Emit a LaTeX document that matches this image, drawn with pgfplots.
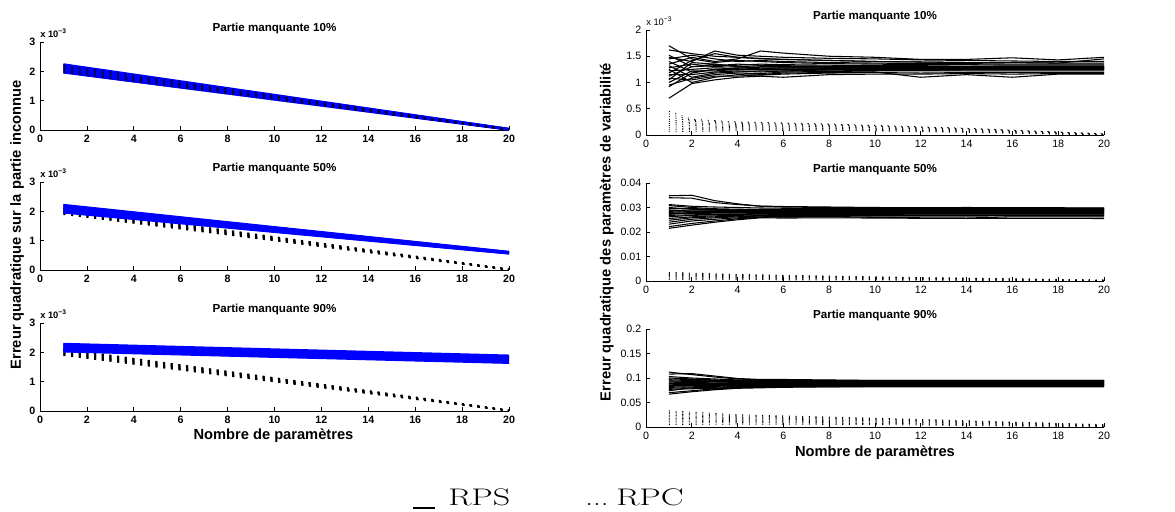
\documentclass[border=0pt]{standalone}
\usepackage{fontspec}
\usepackage{graphicx}
\usepackage{pgfplots}
\usepackage{pgfplotstable}
\pgfplotsset{compat=1.18}
\newfontfamily\arial{Liberation Sans}

% ---------- left column (values in units of 1e-3) ----------
\pgfplotstableread{
x b1 b2 b3 b4 b5 b6 b7 b8 b9 b10 b11 b12 b13
1 1.95 1.97 2.00 2.02 2.05 2.07 2.10 2.12 2.15 2.17 2.20 2.22 2.25
20 0.00 0.005 0.01 0.013 0.017 0.02 0.025 0.028 0.032 0.036 0.04 0.045 0.05
}\LBone
\pgfplotstableread{
x k1 k2 k3 k4 k5 k6 k7 k8 k9 k10
1 1.95 1.98 2.01 2.04 2.07 2.10 2.13 2.16 2.19 2.22
20 0.00 0.003 0.006 0.01 0.013 0.016 0.02 0.023 0.026 0.03
}\LKone
\pgfplotstableread{
x b1 b2 b3 b4 b5 b6 b7 b8 b9 b10 b11 b12 b13
1 1.95 1.97 2.00 2.02 2.05 2.07 2.10 2.12 2.15 2.17 2.19 2.21 2.23
20 0.55 0.56 0.565 0.57 0.575 0.58 0.585 0.59 0.60 0.605 0.61 0.62 0.63
}\LBtwo
\pgfplotstableread{
x k1 k2 k3 k4 k5 k6 k7 k8 k9 k10
1 1.90 1.92 1.95 1.97 2.00 2.02 2.05 2.07 2.10 2.12
20 0.00 0.003 0.006 0.01 0.013 0.016 0.02 0.023 0.026 0.03
}\LKtwo
\pgfplotstableread{
x b1 b2 b3 b4 b5 b6 b7 b8 b9 b10 b11 b12 b13
1 2.02 2.04 2.07 2.09 2.12 2.14 2.17 2.19 2.22 2.24 2.26 2.28 2.30
20 1.63 1.65 1.67 1.70 1.72 1.74 1.77 1.79 1.81 1.83 1.85 1.87 1.90
}\LBthree

% ---------- right column ----------
% top panel, units of 1e-3
\pgfplotstableread{
x a1 a2 a3 a4 a5 a6 a7 a8 a9 a10 a11 a12 a13 a14 a15 a16 a17 a18 a19 a20
1 1.70 1.62 1.52 1.48 1.45 1.40 1.35 1.32 1.28 1.25 1.22 1.18 1.15 1.12 1.08 1.05 1.00 0.95 0.92 0.70
2 1.45 1.55 1.30 1.40 1.52 1.20 1.48 1.10 1.35 1.00 1.25 1.42 1.15 1.30 1.05 1.38 1.22 1.08 1.18 0.98
3 1.38 1.50 1.35 1.60 1.45 1.25 1.40 1.18 1.30 1.10 1.28 1.55 1.20 1.32 1.12 1.35 1.22 1.15 1.25 1.05
4 1.42 1.48 1.30 1.52 1.40 1.28 1.45 1.20 1.33 1.15 1.27 1.48 1.22 1.35 1.12 1.30 1.25 1.18 1.24 1.10
5 1.40 1.45 1.32 1.50 1.42 1.26 1.60 1.22 1.35 1.14 1.30 1.46 1.20 1.33 1.15 1.28 1.25 1.17 1.24 1.12
6 1.38 1.44 1.30 1.48 1.40 1.28 1.56 1.22 1.34 1.16 1.30 1.44 1.22 1.32 1.18 1.28 1.26 1.20 1.25 1.10
8 1.36 1.42 1.30 1.46 1.38 1.27 1.50 1.22 1.33 1.18 1.29 1.42 1.24 1.31 1.19 1.28 1.26 1.21 1.25 1.15
10 1.35 1.40 1.30 1.45 1.37 1.27 1.48 1.23 1.32 1.19 1.29 1.40 1.24 1.30 1.20 1.27 1.26 1.22 1.25 1.16
12 1.34 1.39 1.30 1.43 1.36 1.27 1.44 1.23 1.32 1.18 1.29 1.39 1.24 1.30 1.10 1.27 1.26 1.22 1.25 1.16
14 1.34 1.38 1.30 1.42 1.36 1.27 1.44 1.24 1.31 1.19 1.29 1.38 1.25 1.30 1.15 1.27 1.26 1.22 1.25 1.17
16 1.33 1.38 1.30 1.41 1.35 1.27 1.47 1.24 1.31 1.19 1.29 1.38 1.25 1.30 1.10 1.27 1.26 1.22 1.25 1.16
18 1.33 1.37 1.30 1.40 1.35 1.27 1.43 1.24 1.31 1.19 1.29 1.37 1.25 1.30 1.16 1.27 1.26 1.22 1.25 1.17
20 1.33 1.37 1.30 1.40 1.35 1.27 1.48 1.24 1.31 1.19 1.29 1.45 1.25 1.30 1.16 1.27 1.26 1.22 1.25 1.17
}\ROne
\pgfplotstableread{
x d1 d2 d3 d4 d5 d6 d7 d8 d9 d10
1 .45 .40 .35 .30 .26 .22 .18 .14 .10 .06
2 .30 .28 .26 .23 .21 .18 .15 .12 .10 .07
4 .25 .24 .22 .20 .18 .16 .14 .12 .10 .08
8 .21 .20 .19 .18 .16 .15 .13 .12 .10 .09
14 .13 .12 .12 .11 .10 .09 .08 .07 .06 .05
20 .02 .02 .02 .01 .01 .01 .01 .00 .00 .00
}\ROneD
% middle panel
\pgfplotstableread{
x a1 a2 a3 a4 a5 a6 a7 a8 a9 a10 a11 a12 a13 a14 a15 a16 a17 a18 a19 a20
1 .0348 .0340 .0312 .0308 .0300 .0295 .0290 .0287 .0283 .0280 .0276 .0272 .0268 .0262 .0255 .0248 .0240 .0232 .0222 .0215
2 .0350 .0338 .0305 .0300 .0293 .0296 .0285 .0290 .0280 .0284 .0275 .0278 .0270 .0268 .0262 .0258 .0252 .0245 .0235 .0228
3 .0328 .0320 .0302 .0295 .0290 .0292 .0286 .0289 .0281 .0284 .0277 .0279 .0272 .0270 .0266 .0262 .0258 .0252 .0245 .0240
4 .0315 .0312 .0300 .0293 .0289 .0290 .0286 .0288 .0281 .0284 .0278 .0280 .0274 .0272 .0268 .0265 .0262 .0258 .0254 .0250
5 .0305 .0306 .0298 .0292 .0288 .0290 .0286 .0288 .0282 .0284 .0279 .0281 .0275 .0273 .0270 .0267 .0265 .0262 .0260 .0258
6 .0302 .0304 .0297 .0292 .0288 .0290 .0286 .0288 .0282 .0284 .0279 .0281 .0276 .0274 .0271 .0268 .0266 .0263 .0261 .0257
8 .0300 .0302 .0296 .0292 .0288 .0290 .0286 .0288 .0282 .0284 .0280 .0281 .0276 .0274 .0272 .0269 .0267 .0264 .0262 .0258
10 .0298 .0300 .0296 .0292 .0288 .0290 .0286 .0288 .0283 .0284 .0280 .0281 .0276 .0275 .0272 .0270 .0268 .0265 .0260 .0257
12 .0298 .0299 .0296 .0292 .0288 .0290 .0286 .0288 .0283 .0284 .0280 .0281 .0277 .0275 .0273 .0270 .0268 .0265 .0258 .0256
14 .0299 .0300 .0296 .0292 .0288 .0290 .0286 .0288 .0283 .0284 .0280 .0281 .0277 .0275 .0273 .0270 .0268 .0265 .0257 .0256
16 .0298 .0299 .0296 .0292 .0288 .0290 .0286 .0288 .0283 .0284 .0280 .0281 .0277 .0275 .0273 .0270 .0268 .0266 .0262 .0256
18 .0298 .0299 .0296 .0292 .0288 .0290 .0286 .0288 .0283 .0284 .0280 .0281 .0277 .0275 .0273 .0270 .0268 .0266 .0262 .0256
20 .0297 .0298 .0295 .0292 .0288 .0290 .0286 .0288 .0283 .0284 .0280 .0281 .0277 .0275 .0273 .0270 .0268 .0266 .0262 .0255
}\RTwo
\pgfplotstableread{
x d1 d2 d3 d4 d5 d6 d7 d8 d9 d10
1 .0035 .0032 .0029 .0026 .0023 .0020 .0016 .0012 .0008 .0005
4 .0027 .0025 .0023 .0021 .0019 .0017 .0014 .0011 .0008 .0005
10 .0017 .0016 .0015 .0014 .0013 .0012 .0010 .0008 .0006 .0004
20 .0004 .0004 .0003 .0003 .0002 .0002 .0001 .0001 .0000 .0000
}\RTwoD
% bottom panel
\pgfplotstableread{
x a1 a2 a3 a4 a5 a6 a7 a8 a9 a10 a11 a12 a13 a14 a15 a16 a17 a18 a19 a20
1 .112 .108 .103 .100 .098 .096 .094 .092 .090 .089 .088 .086 .085 .083 .081 .079 .077 .074 .070 .067
2 .107 .109 .100 .098 .097 .095 .093 .092 .091 .089 .088 .087 .085 .084 .082 .080 .078 .080 .074 .072
3 .102 .104 .098 .096 .095 .094 .093 .092 .090 .089 .088 .087 .086 .085 .083 .081 .079 .077 .078 .076
4 .098 .099 .096 .095 .094 .093 .092 .091 .090 .089 .088 .087 .086 .085 .084 .083 .082 .081 .080 .079
5 .096 .097 .095 .094 .093 .092 .092 .091 .090 .089 .088 .087 .086 .086 .085 .084 .083 .082 .081 .080
6 .095 .097 .095 .094 .093 .092 .092 .091 .090 .089 .088 .088 .087 .086 .085 .084 .084 .083 .082 .081
8 .095 .096 .095 .094 .093 .092 .091 .091 .090 .089 .089 .088 .087 .086 .086 .085 .084 .083 .082 .082
10 .095 .095 .094 .094 .093 .092 .091 .091 .090 .089 .089 .088 .087 .087 .086 .085 .084 .084 .083 .082
12 .095 .095 .094 .093 .093 .092 .091 .091 .090 .089 .089 .088 .087 .087 .086 .085 .085 .084 .083 .082
14 .095 .095 .094 .093 .093 .092 .091 .090 .090 .089 .089 .088 .088 .087 .086 .085 .085 .084 .083 .082
16 .095 .095 .094 .094 .093 .092 .091 .090 .090 .089 .089 .088 .088 .087 .086 .086 .085 .084 .083 .082
18 .095 .095 .094 .094 .093 .092 .091 .091 .090 .089 .089 .088 .088 .087 .086 .086 .085 .084 .083 .082
20 .095 .095 .094 .094 .093 .092 .092 .091 .090 .089 .089 .088 .088 .087 .086 .086 .085 .084 .083 .082
}\RThree
\pgfplotstableread{
x d1 d2 d3 d4 d5 d6 d7 d8 d9 d10
1 .033 .030 .027 .024 .021 .018 .015 .012 .008 .005
4 .025 .023 .021 .019 .017 .015 .013 .011 .009 .006
10 .018 .017 .016 .015 .013 .012 .010 .008 .007 .005
20 .005 .004 .004 .003 .003 .002 .002 .001 .001 .000
}\RThreeD

\pgfplotsset{
  base/.style={
    scale only axis, clip=false,
    xmin=0, xmax=20, ymin=0,
    axis x line*=bottom, axis y line*=left,
    xtick={0,2,...,20},
    tick align=inside, major tick length=3pt,
    axis line style={black, line width=0.5pt},
    every tick/.style={black, line width=0.5pt},
    /pgf/number format/assume math mode=true,
    every axis title shift=0pt,
    title style={at={(0.5,1)}, anchor=center, yshift=10.5pt,
      font=\arial\bfseries\fontsize{8.7}{10}\selectfont},
    scaled y ticks=false,
  },
  lax/.style={base, width=351.75pt, height=66pt, ymax=3, ytick={0,1,2,3},
    ticklabel style={font=\arial\bfseries\fontsize{8}{9}\selectfont}},
  rax/.style={base, width=343.5pt,
    ticklabel style={font=\arial\fontsize{8}{9}\selectfont}},
  blueln/.style={blue, line width=1.1pt, no markers},
  ldot/.style={black, line width=1pt, dash pattern=on 1.5pt off 4.3pt, no markers},
  rdot/.style={black, line width=0.6pt, dash pattern=on 0.8pt off 4.2pt, no markers},
  rln/.style={black, line width=0.8pt, no markers},
}
\newcommand{\lexp}{\node[anchor=west, font=\arial\bfseries\fontsize{7}{8}\selectfont, inner sep=0pt] at (rel axis cs:0,1) [yshift=6.5pt] {x 10\textsuperscript{−3}};}
\newcommand{\rexp}{\node[anchor=west, font=\arial\fontsize{7}{8}\selectfont, inner sep=0pt] at (rel axis cs:0,1) [yshift=6.3pt] {x 10\textsuperscript{−3}};}

\begin{document}
\begin{tikzpicture}
\useasboundingbox (0,0) rectangle (881.25pt,-383.25pt);

% ===== Left column =====
\begin{axis}[lax, at={(30pt,-97.5pt)}, anchor=south west, title={Partie manquante 10\%}]
\pgfplotsinvokeforeach{1,...,13}{\addplot[blueln] table[x index=0, y index=#1] {\LBone};}
\pgfplotsinvokeforeach{1,...,10}{\addplot[ldot, opacity=0.45] table[x index=0, y index=#1] {\LKone};}
\lexp
\end{axis}

\begin{axis}[lax, at={(30pt,-202.5pt)}, anchor=south west, title={Partie manquante 50\%}]
\pgfplotsinvokeforeach{1,...,10}{\addplot[ldot] table[x index=0, y index=#1] {\LKtwo};}
\pgfplotsinvokeforeach{1,...,13}{\addplot[blueln] table[x index=0, y index=#1] {\LBtwo};}
\lexp
\end{axis}

\begin{axis}[lax, at={(30pt,-308.25pt)}, anchor=south west, title={Partie manquante 90\%}]
\pgfplotsinvokeforeach{1,...,10}{\addplot[ldot] table[x index=0, y index=#1] {\LKtwo};}
\pgfplotsinvokeforeach{1,...,13}{\addplot[blueln] table[x index=0, y index=#1] {\LBthree};}
\lexp
\end{axis}

% ===== Right column =====
\begin{axis}[rax, at={(484.5pt,-101.25pt)}, anchor=south west, height=78.75pt,
  ymax=2, ytick={0,0.5,1,1.5,2}, yticklabels={0,0.5,1,1.5,2},
  title={Partie manquante 10\%}]
\pgfplotsinvokeforeach{1,...,20}{\addplot[rln] table[x index=0, y index=#1] {\ROne};}
\pgfplotsinvokeforeach{1,...,10}{\addplot[rdot] table[x index=0, y index=#1] {\ROneD};}
\rexp
\end{axis}

\begin{axis}[rax, at={(484.5pt,-210.75pt)}, anchor=south west, height=73.5pt,
  ymax=0.04, ytick={0,0.01,0.02,0.03,0.04}, yticklabels={0,0.01,0.02,0.03,0.04},
  title={Partie manquante 50\%}]
\pgfplotsinvokeforeach{1,...,20}{\addplot[rln] table[x index=0, y index=#1] {\RTwo};}
\pgfplotsinvokeforeach{1,...,10}{\addplot[rdot] table[x index=0, y index=#1] {\RTwoD};}
\end{axis}

\begin{axis}[rax, at={(484.5pt,-320.25pt)}, anchor=south west, height=73.5pt,
  ymax=0.2, ytick={0,0.05,0.1,0.15,0.2}, yticklabels={0,0.05,0.1,0.15,0.2},
  title={Partie manquante 90\%}]
\pgfplotsinvokeforeach{1,...,20}{\addplot[rln] table[x index=0, y index=#1] {\RThree};}
\pgfplotsinvokeforeach{1,...,10}{\addplot[rdot] table[x index=0, y index=#1] {\RThreeD};}
\end{axis}

% ===== axis labels =====
\node[rotate=90, font=\arial\bfseries\fontsize{11}{13}\selectfont] at (12.75pt,-168.75pt) {Erreur quadratique sur la partie inconnue};
\node[rotate=90, font=\arial\bfseries\fontsize{11}{13}\selectfont] at (455pt,-174pt) {Erreur quadratique des paramètres de variabilité};
\node[font=\arial\bfseries\fontsize{11}{13}\selectfont] at (205.1pt,-327pt) {Nombre de paramètres};
\node[font=\arial\bfseries\fontsize{11}{13}\selectfont] at (656.25pt,-339.75pt) {Nombre de paramètres};

% ===== bottom legend text =====
\node[anchor=base west, inner sep=0pt] at (309.75pt,-379.1pt) {\rule[-2.6pt]{16.5pt}{1.5pt}};
\node[anchor=base west, inner sep=0pt, font=\fontsize{18}{20}\selectfont] at (336pt,-379.1pt) {\scalebox{1.42}[1]{RPS}};
\node[anchor=base west, inner sep=0pt, font=\fontsize{18}{20}\selectfont] at (438.75pt,-379.1pt) {\scalebox{1.3}[1]{...}};
\node[anchor=base west, inner sep=0pt, font=\fontsize{18}{20}\selectfont] at (462pt,-379.1pt) {\scalebox{1.42}[1]{RPC}};
\end{tikzpicture}
\end{document}
